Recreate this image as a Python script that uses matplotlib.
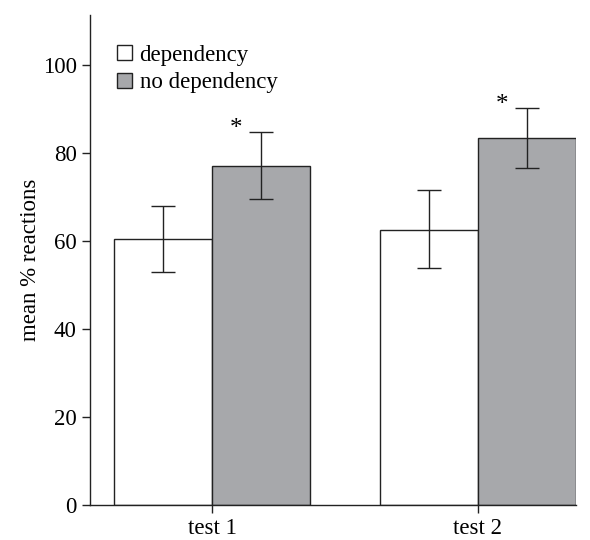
import numpy as np
import matplotlib.pyplot as plt

plt.rcParams['font.family'] = ['Liberation Serif', 'DejaVu Serif']

tests = ['test 1', 'test 2']
dependency = [60.5, 62.5]
dependency_err_lo = [7.5, 8.6]
dependency_err_hi = [7.5, 9.1]
no_dependency = [77.0, 83.4]
no_dependency_err_lo = [7.5, 6.8]
no_dependency_err_hi = [7.8, 6.8]
star_y = [85.5, 91.0]

x = np.arange(len(tests))
w = 0.368
fs = 16.5

fig = plt.figure(figsize=(5.9, 5.4), dpi=100)
ax = fig.add_axes([0.1525, 0.0648, 0.8235, 0.9072])

ax.bar(x - w / 2, dependency, w, color='white', edgecolor='#222222', linewidth=1.0,
       label='dependency')
ax.bar(x + w / 2, no_dependency, w, color='#a7a8ab', edgecolor='#222222', linewidth=1.0,
       label='no dependency')
ax.errorbar(x - w / 2, dependency, yerr=[dependency_err_lo, dependency_err_hi],
            fmt='none', ecolor='#222222', elinewidth=1.0, capsize=8.6, capthick=1.0)
ax.errorbar(x + w / 2, no_dependency, yerr=[no_dependency_err_lo, no_dependency_err_hi],
            fmt='none', ecolor='#222222', elinewidth=1.0, capsize=8.6, capthick=1.0)

for xi, yi in zip(x, star_y):
    ax.text(xi + 0.09, yi, '*', ha='center', va='center', fontsize=18)

ax.set_xlim(-0.459, 1.368)
ax.set_ylim(0, 111.4)
ax.set_yticks([0, 20, 40, 60, 80, 100])
ax.set_xticks(x)
ax.set_xticklabels(tests)
ax.set_ylabel('mean % reactions', fontsize=fs, labelpad=1)
ax.tick_params(labelsize=fs, direction='out', length=6, width=1.0, color='#222222')

for s in ['top', 'right']:
    ax.spines[s].set_visible(False)
for s in ['left', 'bottom']:
    ax.spines[s].set_linewidth(1.0)
    ax.spines[s].set_color('#222222')

ax.legend(loc='upper left', bbox_to_anchor=(0.055, 0.94), frameon=False, fontsize=fs,
          handlelength=0.65, handleheight=0.65, handletextpad=0.35, labelspacing=0.3,
          borderaxespad=0, borderpad=0)

fig.savefig('out.png', dpi=100)
